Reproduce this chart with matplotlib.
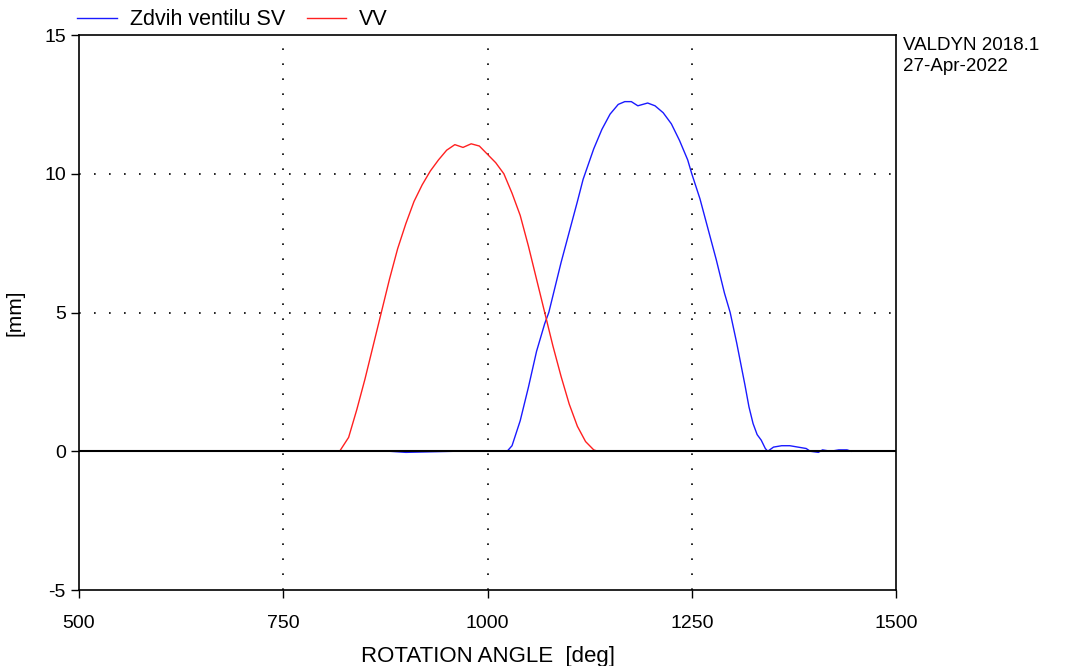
"""Valve lift vs rotation angle (VALDYN export style) -> out.png"""

import matplotlib

matplotlib.use("Agg")
import matplotlib.pyplot as plt

plt.rcParams["font.family"] = ["Liberation Sans", "DejaVu Sans"]
plt.rcParams["axes.unicode_minus"] = False

# exhaust valve (SV) lift [mm] vs angle [deg]
sv_angle = [720, 800, 880, 900, 960, 1000, 1024, 1030, 1040, 1050, 1060, 1070, 1075,
            1080, 1090, 1100, 1110, 1117, 1130, 1140, 1150, 1160, 1168, 1176,
            1184, 1196, 1205, 1215, 1225, 1235, 1245, 1250, 1260, 1270, 1280,
            1290, 1297, 1305, 1315, 1320, 1325, 1330, 1335, 1340, 1343, 1350,
            1360, 1370, 1380, 1390, 1395, 1405, 1410, 1420, 1430, 1440, 1445]
sv_lift = [0.0, 0.0, 0.0, -0.04, 0.0, 0.0, 0.0, 0.2, 1.1, 2.3, 3.6, 4.6, 5.0,
           5.6, 6.8, 7.9, 9.0, 9.8, 10.9, 11.6, 12.15, 12.5, 12.6, 12.6,
           12.45, 12.55, 12.45, 12.2, 11.8, 11.2, 10.5, 10.0, 9.1, 8.0, 6.9,
           5.7, 5.0, 3.9, 2.4, 1.6, 1.0, 0.6, 0.4, 0.1, 0.0, 0.15,
           0.2, 0.2, 0.15, 0.1, 0.0, -0.04, 0.05, 0.0, 0.05, 0.05, 0.0]

# intake valve (VV) lift [mm] vs angle [deg]
vv_angle = [720, 780, 819, 830, 840, 850, 860, 870, 880, 890, 900, 910, 920, 930,
            940, 950, 960, 970, 980, 990, 1000, 1010, 1020, 1030, 1040, 1050,
            1060, 1070, 1080, 1090, 1100, 1110, 1120, 1130, 1135, 1250, 1380,
            1400]
vv_lift = [0.0, 0.0, 0.0, 0.5, 1.5, 2.6, 3.8, 5.0, 6.2, 7.3, 8.2, 9.0, 9.6, 10.1,
           10.5, 10.85, 11.05, 10.95, 11.08, 11.0, 10.7, 10.4, 10.0, 9.3, 8.5, 7.4,
           6.2, 5.0, 3.8, 2.7, 1.7, 0.9, 0.35, 0.05, 0.0, 0.0, 0.0, 0.0]

x_ticks = [500, 750, 1000, 1250, 1500]
y_ticks = [-5, 0, 5, 10, 15]

fig = plt.figure(figsize=(10.69, 6.66), dpi=100)
ax = fig.add_axes([0.0739, 0.1141, 0.7643, 0.8333])

ax.plot(sv_angle, sv_lift, color="#1a1aff", lw=1.0, label="Zdvih ventilu SV")
ax.plot(vv_angle, vv_lift, color="#ff2020", lw=1.0, label="VV")
ax.axhline(0, color="black", lw=1.5, zorder=3)

for xv in [750, 1000, 1250]:
    ax.axvline(xv, color="black", lw=1.2, ls=(0, (1, 8)), zorder=1)
for yv in [5, 10]:
    ax.axhline(yv, color="black", lw=1.2, ls=(0, (1, 8)), zorder=1)

ax.set_xlim(500, 1500)
ax.set_ylim(-5, 15)
ax.set_xticks(x_ticks)
ax.set_yticks(y_ticks)
ax.tick_params(direction="out", length=6, width=1, labelsize=14, colors="black")
ax.tick_params(axis="x", pad=12)
for sp in ax.spines.values():
    sp.set_linewidth(1.2)

ax.set_xlabel("ROTATION ANGLE  [deg]", fontsize=16, labelpad=10)
ax.set_ylabel("[mm]", fontsize=15, labelpad=14)

fig.legend(loc="upper left", bbox_to_anchor=(0.054, 1.015), ncol=2, frameon=False,
           fontsize=15.5, handlelength=1.85, columnspacing=1.0, handletextpad=0.6)

fig.text(0.845, 0.945, "VALDYN 2018.1\n27-Apr-2022", fontsize=13.5, va="top",
         ha="left", linespacing=1.3)

fig.savefig("out.png", dpi=100)
